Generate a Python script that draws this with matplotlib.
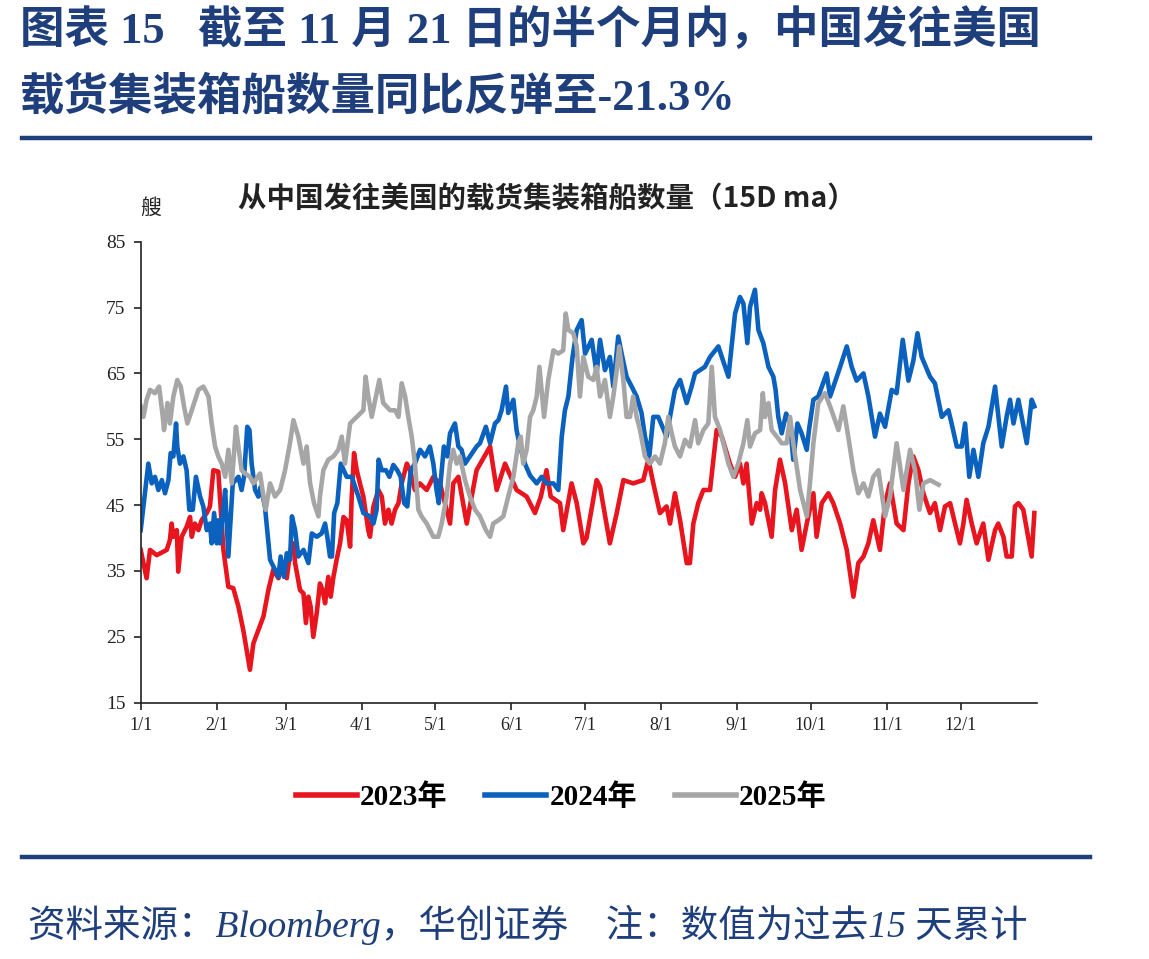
import matplotlib
matplotlib.use("Agg")
import matplotlib.pyplot as plt
from matplotlib.lines import Line2D

# ---------------- data (day of year, 0 = Jan 1) ----------------
red_days = [0, 2.4, 3.8, 6.5, 10.6, 11.9, 12.6, 13.3, 14.7, 15.3, 16.7, 18.7, 20.1, 20.8, 22.1, 23.5,
            24.8, 26.9, 28.2, 29.6, 31.6, 33.7, 35.7, 37.7, 39.8, 41.8, 44.5, 45.9, 47.9, 50.0, 52.0,
            54.0, 56.1, 58.1, 59.5, 60.8, 62.2, 62.9, 64.9, 66.3, 67.3, 68.3, 69.2, 70.3, 71.7, 73.0,
            74.1, 75.1, 76.4, 77.4, 78.5, 79.8, 81.2, 82.6, 83.9, 85.3, 85.9, 86.9, 88.0, 89.3, 90.7,
            92.7, 93.4, 94.8, 96.8, 98.2, 99.5, 100.9, 102.2, 103.6, 105.0, 106.3, 108.4, 109.7, 111.7,
            113.7, 116.5, 119.2, 121.9, 126.0, 127.3, 129.4, 132.8, 136.8, 142.3, 145.0, 148.4, 153.1,
            157.2, 160.6, 163.0, 165.3, 167.0, 170.8, 172.1, 175.5, 177.6, 180.3, 181.6, 185.7, 187.1,
            191.1, 193.9, 196.6, 200.6, 204.7, 206.8, 208.8, 211.5, 214.2, 215.6, 217.6, 219.7, 222.4,
            223.7, 225.1, 227.1, 229.2, 231.9, 234.6, 236.7, 240.0, 242.1, 244.1, 245.5, 246.8, 248.9,
            250.9, 252.3, 252.9, 254.3, 257.0, 258.4, 260.4, 262.5, 265.2, 267.2, 269.2, 271.3, 274.0,
            275.3, 277.4, 280.1, 282.1, 284.9, 287.6, 290.3, 292.3, 294.4, 296.4, 298.4, 301.1, 303.2,
            305.2, 307.9, 310.7, 312.7, 314.7, 316.8, 318.8, 321.5, 323.5, 325.6, 327.6, 329.7, 331.7,
            333.7, 335.1, 336.4, 338.5, 340.5, 343.2, 345.3, 348.0, 349.3, 351.4, 352.7, 354.8, 356.1,
            357.5, 359.5, 362.9, 364.0]
red_vals = [38.2, 33.9, 38.2, 37.4, 38.2, 39.7, 42.2, 40.2, 41.2, 34.9, 40.2, 41.7, 43.2, 40.2, 42.2, 41.2,
            42.7, 43.8, 44.8, 50.3, 50.1, 38.2, 32.6, 32.4, 29.6, 26.0, 20.0, 24.0, 26.0, 28.1, 32.1,
            35.2, 33.9, 36.2, 33.9, 37.7, 39.2, 36.2, 32.1, 31.6, 27.1, 31.1, 29.6, 25.0, 28.6, 33.1,
            32.1, 30.1, 34.1, 31.1, 34.1, 36.7, 39.2, 43.2, 42.7, 38.7, 45.8, 52.9, 50.3, 48.3, 46.3,
            41.2, 40.2, 44.8, 47.3, 46.3, 42.2, 44.3, 42.2, 44.3, 45.3, 48.3, 51.3, 50.3, 47.3,
            48.3, 47.3, 49.3, 48.3, 42.2, 48.3, 49.3, 42.2, 50.3, 53.9, 47.3, 51.3, 47.3,
            46.3, 43.8, 46.3, 50.3, 46.3, 45.3, 41.2, 48.3, 45.3, 39.2, 40.0, 48.8, 47.8,
            39.2, 43.8, 48.8, 48.3, 48.8, 51.9, 48.3, 43.8, 44.8, 42.2, 46.8, 42.7, 36.2,
            36.2, 42.2, 45.3, 47.3, 47.3, 56.4, 55.4, 51.3, 49.3, 51.3, 48.3, 51.3, 42.2,
            45.3, 44.3, 46.8, 45.3, 40.2, 47.3, 51.9, 48.3, 41.2, 44.3, 38.2, 42.2, 46.8,
            40.2, 45.3, 46.8, 45.3, 42.2, 38.2, 31.1, 36.2, 37.2, 39.2, 42.7, 38.2, 45.3,
            48.3, 42.2, 41.2, 48.3, 52.4, 50.3, 46.8, 43.8, 45.3, 41.2, 44.8, 45.3, 42.2,
            39.2, 42.2, 45.8, 42.2, 39.2, 42.2, 36.7, 41.2, 42.2, 40.2, 37.2, 37.2, 44.8,
            45.3, 44.3, 37.2, 43.8]

blue_days = [0, 3.1, 4.5, 5.8, 7.2, 8.6, 9.9, 11.3, 12.2, 13.3, 14.4, 14.9, 16.0, 17.4, 18.7, 19.8,
             21.2, 22.5, 24.2, 25.5, 26.9, 28.2, 28.9, 29.9, 31.0, 31.6, 32.3, 33.3, 34.4, 35.7, 37.5,
             39.8, 41.1, 42.1, 43.4, 44.3, 45.2, 46.6, 47.9, 48.9, 50.6, 52.7, 54.7, 56.1, 57.0, 58.4,
             59.5, 60.8, 61.6, 62.9, 64.2, 66.3, 68.3, 69.7, 71.7, 73.7, 75.1, 76.0, 77.1, 77.9, 78.8,
             80.1, 81.5, 83.9, 86.0, 87.3, 88.7, 90.7, 93.4, 94.8, 96.1, 96.9, 98.2, 99.9, 101.3, 102.9,
             104.5, 105.9, 107.3, 108.6, 110.0, 111.7, 113.8, 115.8, 117.8, 119.2, 120.5, 121.4,
             122.6, 123.5, 124.9, 126.0, 128.0, 129.4, 130.7, 132.1, 134.1, 136.8, 138.2, 140.6, 142.3,
             144.3, 145.7, 147.0, 148.8, 149.7, 151.8, 153.1, 154.5, 156.5, 158.6, 161.3, 163.3, 165.3,
             168.1, 170.1, 171.5, 172.8, 174.2, 175.9, 177.6, 179.6, 181.0, 183.7, 185.7, 187.1, 189.1,
             191.1, 192.5, 194.5, 195.9, 197.9, 200.0, 202.0, 204.0, 205.4, 207.2, 208.8, 210.8, 214.2,
             215.6, 217.6, 219.7, 222.4, 224.4, 225.8, 227.8, 229.8, 231.9, 235.3, 236.7, 239.4, 240.7,
             242.1, 244.1, 245.5, 247.1, 248.2, 250.2, 251.6, 253.6, 255.7, 257.7, 258.6, 259.7, 261.1,
             262.9, 264.5, 265.8, 267.5, 269.2, 271.3, 272.2, 274.0, 276.0, 279.4, 280.8, 284.9, 287.6,
             289.6, 291.6, 294.4, 296.4, 299.1, 301.1, 303.2, 305.9, 307.9, 310.4, 312.7, 314.7, 316.4,
             318.1, 321.5, 323.5, 326.3, 329.0, 330.3, 332.4, 334.4, 335.8, 337.5, 339.2, 341.2, 343.2,
             345.3, 348.0, 350.7, 352.7, 354.1, 355.5, 357.5, 360.9, 362.9, 364.0]
blue_vals = [41.2, 51.3, 48.3, 49.3, 47.3, 48.8, 46.8, 48.8, 52.9, 52.4, 57.4, 53.9, 51.3, 52.4, 50.3, 44.3,
             44.3, 49.3, 46.3, 44.8, 41.2, 42.2, 39.2, 43.8, 39.2, 42.7, 39.2, 43.3, 47.3, 37.2, 48.3,
             49.3, 47.3, 49.3, 56.9, 56.4, 51.3, 47.3, 46.3, 47.8, 44.8, 36.7, 35.2, 34.1, 37.2, 34.1,
             37.7, 36.7, 43.3, 41.2, 37.2, 38.2, 36.2, 40.7, 40.2, 40.7, 42.2, 40.2, 37.2, 37.2, 43.8,
             45.3, 51.3, 49.3, 49.3, 47.8, 46.3, 43.8, 43.3, 42.2, 44.3, 51.9, 50.3, 50.3, 49.3, 51.1,
             50.3, 49.3, 45.3, 44.8, 50.3, 51.3, 53.4, 52.4, 53.9, 51.3, 47.3, 45.3,
             50.3, 53.9, 52.4, 55.9, 57.4, 53.9, 53.4, 51.3, 52.4, 53.9, 54.4, 56.9, 54.4,
             57.4, 57.9, 59.4, 63.0, 59.0, 61.0, 56.4, 53.9, 51.3, 49.5, 48.3, 49.3, 48.3,
             48.3, 47.3, 55.4, 59.4, 61.5, 67.5, 71.6, 73.1, 68.0, 70.1, 65.0, 70.1, 65.5,
             67.5, 63.0, 70.6, 68.0, 64.5, 63.0, 61.5, 59.0, 55.4, 52.5, 58.4, 58.4, 55.4,
             58.4, 62.5, 64.0, 60.5, 63.0, 65.0, 65.5, 66.0, 67.5, 69.1, 67.5, 64.5, 69.1,
             74.1, 76.6, 75.6, 69.6, 75.1, 77.7, 71.6, 69.6, 66.0, 64.5, 62.5, 58.4, 55.9,
             58.9, 57.4, 51.9, 57.4, 55.9, 53.4, 56.4, 61.0, 61.5, 65.0, 61.5, 66.0, 69.1,
             66.0, 63.9, 65.0, 61.5, 55.4, 58.9, 56.9, 62.5, 62.0, 70.1, 63.9, 66.9, 71.1,
             67.5, 64.5, 63.5, 58.4, 59.4, 57.4, 53.9, 53.9, 57.4, 49.3, 53.4, 49.3, 54.4,
             56.9, 63.0, 53.9, 58.4, 61.0, 57.4, 61.0, 54.4, 61.0, 60.0]

gray_days = [0, 1.1, 2.4, 3.8, 5.8, 7.5, 9.0, 9.5, 10.9, 11.9, 13.3, 14.9, 16.3, 17.7, 19.0, 20.8,
             23.5, 25.5, 27.6, 28.9, 30.3, 31.6, 33.0, 34.4, 35.7, 37.1, 38.8, 39.8, 41.1, 42.5, 44.5,
             45.9, 48.6, 50.0, 50.9, 52.7, 54.7, 56.8, 58.8, 60.8, 62.2, 64.2, 66.3, 67.6, 69.0, 70.6,
             72.4, 73.0, 74.4, 76.4, 78.5, 80.5, 81.9, 83.2, 85.3, 88.0, 90.7, 91.6, 92.7, 94.1, 97.2,
             98.8, 101.6, 103.6, 105.0, 106.3, 107.7, 109.0, 110.4, 111.7, 113.1, 114.4, 116.5,
             119.2, 121.2, 122.6, 124.6, 126.0, 127.3, 128.7, 130.0, 132.1, 134.1, 136.2, 138.2, 140.6,
             142.3, 143.6, 145.7, 147.7, 149.7, 151.8, 153.8, 154.8, 155.8, 157.2, 158.6, 159.9, 161.3,
             162.4, 164.3, 166.0, 168.1, 170.1, 172.1, 173.1, 174.2, 176.2, 177.6, 178.9, 180.3, 182.3,
             184.4, 185.7, 187.1, 189.1, 191.1, 192.5, 193.9, 194.9, 196.6, 197.9, 199.3, 200.6, 202.0,
             203.4, 205.4, 207.4, 209.5, 211.5, 213.5, 214.9, 216.3, 217.6, 219.7, 221.7, 223.7, 225.8,
             227.1, 229.2, 231.2, 232.6, 233.9, 236.0, 239.4, 241.4, 243.4, 245.5, 247.1, 248.2, 250.2,
             252.3, 253.4, 254.3, 255.7, 257.0, 259.1, 261.1, 263.1, 264.5, 265.8, 268.6, 271.3, 272.6,
             274.0, 276.0, 278.7, 280.8, 284.2, 286.2, 288.2, 290.3, 292.3, 294.4, 296.4, 298.4, 300.5,
             303.2, 305.2, 307.9, 310.7, 313.4, 315.4, 317.2, 318.8, 321.5, 325.0]
gray_vals = [60.0, 58.4, 61.0, 62.5, 62.0, 63.0, 58.4, 56.4, 60.5, 57.4, 61.5, 64.0, 63.0, 59.9, 57.4, 59.4,
             62.5, 63.0, 61.5, 57.4, 53.9, 52.4, 51.3, 49.3, 53.4, 48.3, 56.9, 53.9, 50.3, 49.8, 49.3,
             48.3, 49.8, 46.3, 44.3, 48.3, 46.3, 47.3, 50.3, 54.4, 57.9, 55.4, 51.3, 53.9, 48.3, 45.3,
             43.3, 46.3, 50.3, 51.9, 52.4, 53.4, 55.4, 51.3, 57.4, 58.4, 59.4, 64.5, 61.5, 58.4, 64.0,
             60.5, 59.4, 59.4, 58.4, 63.5, 61.5, 58.4, 55.4, 51.3, 44.3, 43.3, 42.2,
             40.2, 40.2, 42.2, 46.3, 51.3, 53.4, 51.3, 52.4, 48.8, 46.3, 44.3, 43.3, 41.2,
             40.2, 42.2, 42.7, 43.3, 46.3, 49.3, 54.4, 55.4, 51.3, 53.4, 58.4, 59.4, 61.5,
             66.0, 58.4, 64.0, 68.5, 68.0, 68.5, 74.1, 71.6, 71.1, 69.1, 61.5, 67.5, 64.5,
             64.0, 66.0, 61.5, 64.0, 58.4, 61.5, 65.5, 69.1, 64.0, 58.4, 58.4, 61.5, 58.4,
             56.4, 52.4, 51.3, 52.4, 51.3, 54.4, 58.4, 55.9, 53.9, 52.4, 54.9, 53.9, 57.9,
             54.4, 56.4, 57.4, 66.0, 58.4, 56.4, 51.3, 49.3, 51.3, 54.4, 57.9, 53.9, 55.9,
             56.4, 62.0, 58.4, 60.5, 56.4, 55.4, 54.4, 54.4, 58.4, 54.4, 47.3, 43.3, 48.3,
             54.4, 60.5, 62.0, 60.0, 56.4, 60.0, 55.4, 50.3, 46.8, 48.3, 46.3, 49.3, 50.3,
             43.3, 46.3, 54.4, 47.3, 53.4, 50.3, 44.3, 48.3, 48.8, 48.1]

month_starts = [0, 31, 59, 90, 120, 151, 181, 212, 243, 273, 304, 334]
month_labels = ["1/1", "2/1", "3/1", "4/1", "5/1", "6/1", "7/1", "8/1", "9/1", "10/1", "11/1", "12/1"]
y_ticks = [15, 25, 35, 45, 55, 65, 75, 85]
series_names = ["2023年", "2024年", "2025年"]
series_colors = ["#E8141E", "#0A62BE", "#A6A6A6"]

title_line1 = "图表 15   截至 11 月 21 日的半个月内，中国发往美国"
title_line2 = "载货集装箱船数量同比反弹至-21.3%"
chart_title = "从中国发往美国的载货集装箱船数量（15D ma）"
unit_label = "艘"
source_text = "资料来源：Bloomberg，华创证券    注：数值为过去15 天累计"

# ---------------- figure ----------------
W, H = 1149, 959
fig = plt.figure(figsize=(W / 100, H / 100), dpi=100)
fig.patch.set_facecolor("white")

def fx(px):
    return px / W

def fy(py):
    return 1 - py / H

navy = "#1F3F7C"
serif_cjk = ["Liberation Serif", "Noto Sans CJK SC"]

fig.text(fx(20), fy(30), title_line1, fontsize=32, fontweight="bold", color=navy,
         family=serif_cjk, ha="left", va="center")
fig.text(fx(20), fy(97), title_line2, fontsize=32, fontweight="bold", color=navy,
         family=serif_cjk, ha="left", va="center")

fig.add_artist(Line2D([fx(22), fx(1090)], [fy(138), fy(138)], color=navy, lw=3.2))
fig.add_artist(Line2D([fx(22), fx(1090)], [fy(857), fy(857)], color=navy, lw=3.2))

fig.text(fx(547), fy(200), chart_title, fontsize=20.5, fontweight="bold", color="#222222",
         family=["Noto Sans CJK SC", "DejaVu Sans"], ha="center", va="center")
fig.text(fx(151), fy(208), unit_label, fontsize=15, color="#222222",
         family=["Noto Sans CJK SC"], ha="center", va="center")

ax = fig.add_axes([fx(140.7), fy(702.7), fx(1036.8) - fx(140.7), fy(241.7) - fy(702.7)])
for days, vals, name, col in zip([red_days, blue_days, gray_days],
                                 [red_vals, blue_vals, gray_vals],
                                 series_names, series_colors):
    ax.plot(days, vals, color=col, lw=3.3, label=name, solid_joinstyle="round")

ax.set_xlim(0, 365)
ax.set_ylim(15, 85)
ax.set_yticks(y_ticks)
ax.set_xticks(month_starts)
ax.set_xticklabels(month_labels)
for s in ["top", "right"]:
    ax.spines[s].set_visible(False)
for s in ["left", "bottom"]:
    ax.spines[s].set_color("#222222")
    ax.spines[s].set_linewidth(1.2)
ax.tick_params(axis="y", direction="out", length=5, width=1.2, colors="#222222",
               labelsize=14, pad=6)
ax.tick_params(axis="x", direction="out", length=5, width=1.2, colors="#222222",
               labelsize=13, pad=5)
for lab in ax.get_yticklabels() + ax.get_xticklabels():
    lab.set_family("Liberation Serif")
    lab.set_color("#222222")

leg = fig.legend(loc="center", bbox_to_anchor=(fx(561), fy(797)), ncol=3, frameon=False,
                 handlelength=2.1, handletextpad=0.1, columnspacing=1.3,
                 prop={"family": serif_cjk, "weight": "bold", "size": 21})
for line in leg.get_lines():
    line.set_linewidth(4)

fig.text(fx(28), fy(925), source_text, fontsize=27, style="italic", color=navy,
         family=serif_cjk, ha="left", va="center")

fig.savefig("out.png", dpi=100, facecolor="white")
